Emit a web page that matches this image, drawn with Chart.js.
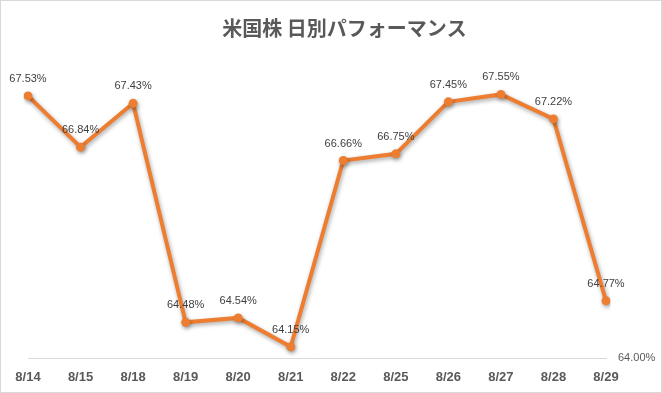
<!DOCTYPE html>
<html>
<head>
<meta charset="utf-8">
<script src="https://cdn.jsdelivr.net/npm/chart.js@4.4.1/dist/chart.umd.min.js"></script>
<style>
  html, body { margin: 0; padding: 0; background: #fff; }
  #wrap { position: relative; width: 660px; height: 391px; border: 1px solid #d9d9d9; }
</style>
</head>
<body>
<div id="wrap"><canvas id="lineChart"></canvas></div>
<script>
// dates and daily values (%)
var labels = ['8/14', '8/15', '8/18', '8/19', '8/20', '8/21', '8/22', '8/25', '8/26', '8/27', '8/28', '8/29'];
var perf = [67.53, 66.84, 67.43, 64.48, 64.54, 64.15, 66.66, 66.75, 67.45, 67.55, 67.22, 64.77];
var yMin = 64;
var yMax = 68;

// draw value labels above each point
var pointLabels = {
  id: 'pointLabels',
  afterDatasetsDraw: function (chart) {
    var ctx = chart.ctx;
    var meta = chart.getDatasetMeta(0);
    ctx.save();
    ctx.font = '11px "Liberation Sans", Arial, sans-serif';
    ctx.fillStyle = '#404040';
    ctx.textAlign = 'center';
    ctx.textBaseline = 'middle';
    meta.data.forEach(function (pt, i) {
      ctx.fillText(perf[i].toFixed(2) + '%', pt.x, pt.y - 17);
    });
    ctx.restore();
  }
};

// soft shadow under the line, like the original
var lineShadow = {
  id: 'lineShadow',
  beforeDatasetDraw: function (chart) {
    var ctx = chart.ctx;
    ctx.save();
    ctx.shadowColor = 'rgba(0,0,0,0.35)';
    ctx.shadowBlur = 4;
    ctx.shadowOffsetX = 1;
    ctx.shadowOffsetY = 2;
  },
  afterDatasetDraw: function (chart) {
    chart.ctx.restore();
  }
};

var ctx = document.getElementById('lineChart').getContext('2d');
var myChart = new Chart(ctx, {
  type: 'line',
  data: {
    labels: labels,
    datasets: [{
      label: 'perf',
      data: perf,
      borderColor: '#ED7D31',
      backgroundColor: '#ED7D31',
      borderWidth: 4,
      pointRadius: 4.5,
      pointBorderWidth: 0,
      pointHoverRadius: 4.5,
      tension: 0
    }]
  },
  options: {
    responsive: true,
    maintainAspectRatio: false,
    animation: false,
    layout: { padding: { left: 27, right: 0, top: 0, bottom: 0 } },
    plugins: {
      legend: { display: false },
      tooltip: { enabled: false },
      title: {
        display: true,
        text: '米国株 日別パフォーマンス',
        color: '#595959',
        font: { family: '"Noto Sans CJK JP", sans-serif', size: 20, weight: 'bold' },
        padding: { top: 15, bottom: 21 }
      }
    },
    scales: {
      x: {
        offset: false,
        grid: { display: false, drawTicks: false },
        border: { display: true, color: '#d9d9d9', width: 1 },
        ticks: {
          color: '#595959',
          padding: 12,
          maxRotation: 0,
          font: { family: '"Liberation Sans", Arial, sans-serif', size: 13, weight: 'bold' }
        },
        afterFit: function (scale) { scale.height = 34; }
      },
      y: {
        position: 'right',
        min: yMin,
        max: yMax,
        grid: { display: false, drawTicks: false },
        border: { display: false },
        ticks: {
          stepSize: 1,
          padding: 12,
          color: '#595959',
          font: { family: '"Liberation Sans", Arial, sans-serif', size: 11 },
          callback: function (v) { return v === yMin ? v.toFixed(2) + '%' : ''; }
        },
        afterFit: function (scale) { scale.width = 55; }
      }
    }
  },
  plugins: [lineShadow, pointLabels]
});
</script>
</body>
</html>
